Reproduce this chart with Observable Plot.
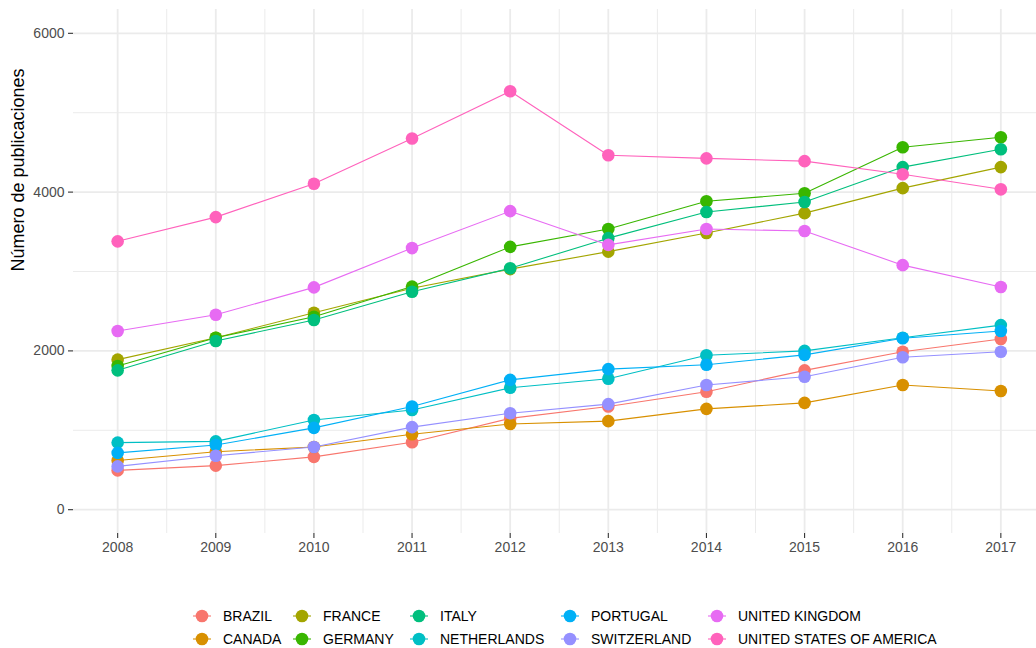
<!DOCTYPE html>
<html><head><meta charset="utf-8">
<script src="https://cdn.jsdelivr.net/npm/d3@7"></script>
<script src="https://cdn.jsdelivr.net/npm/@observablehq/plot@0.6"></script>
<style>
body{margin:0;background:#fff;font-family:"Liberation Sans",Arial,sans-serif;}
#wrap{position:relative;width:1036px;height:648px;overflow:hidden;}
#legend{position:absolute;left:193px;top:604px;display:grid;grid-template-columns:100px 117px 151px 147px auto;grid-template-rows:23px 23px;grid-auto-flow:column;font-size:14px;color:#000;}
.item{display:flex;align-items:center;white-space:nowrap;}
.item svg{margin-right:12px;flex:none;}
</style></head><body><div id="wrap"><div id="chart"></div><div id="legend"></div></div>
<script>
const years = [2008, 2009, 2010, 2011, 2012, 2013, 2014, 2015, 2016, 2017];
const countries = ["BRAZIL", "CANADA", "FRANCE", "GERMANY", "ITALY", "NETHERLANDS", "PORTUGAL", "SWITZERLAND", "UNITED KINGDOM", "UNITED STATES OF AMERICA"];
const colors = ["#F8766D", "#D89000", "#A3A500", "#39B600", "#00BF7D", "#00BFC4", "#00B0F6", "#9590FF", "#E76BF3", "#FF62BC"];

const brazil      = [495, 555, 665, 850, 1150, 1300, 1485, 1755, 1990, 2150];
const canada      = [620, 730, 790, 950, 1080, 1115, 1270, 1345, 1570, 1495];
const france      = [1890, 2165, 2480, 2790, 3030, 3250, 3485, 3735, 4050, 4315];
const germany     = [1810, 2165, 2430, 2810, 3310, 3535, 3885, 3985, 4565, 4690];
const italy       = [1755, 2125, 2390, 2745, 3040, 3420, 3750, 3875, 4315, 4540];
const netherlands = [845, 860, 1130, 1255, 1535, 1650, 1945, 2000, 2165, 2325];
const portugal    = [715, 815, 1030, 1300, 1635, 1770, 1825, 1950, 2160, 2250];
const switzerland = [545, 680, 790, 1040, 1215, 1330, 1570, 1675, 1920, 1990];
const uk          = [2250, 2455, 2800, 3295, 3760, 3335, 3535, 3510, 3080, 2805];
const usa         = [3380, 3685, 4105, 4675, 5270, 4465, 4425, 4390, 4225, 4035];

const yTicks = [0, 2000, 4000, 6000];
const yMinor = [1000, 3000, 5000];
const xMinor = [2008.5, 2009.5, 2010.5, 2011.5, 2012.5, 2013.5, 2014.5, 2015.5, 2016.5];
const yLabel = "Número de publicaciones";

const series = [brazil, canada, france, germany, italy, netherlands, portugal, switzerland, uk, usa];
const rows = [];
countries.forEach((c, i) => series[i].forEach((v, j) => rows.push({country: c, year: years[j], value: v})));

const font = '"Liberation Sans", Arial, sans-serif';
const chart = Plot.plot({
  width: 1036, height: 560,
  marginLeft: 73, marginRight: 0, marginTop: 9, marginBottom: 27,
  style: {fontFamily: font, fontSize: "14px", background: "white", color: "#4d4d4d"},
  x: {domain: [2007.55, 2017.45], range: [73, 1044.5]},
  y: {domain: [-300, 6300], range: [533, 9]},
  color: {domain: countries, range: colors},
  marks: [
    Plot.ruleY(yMinor, {stroke: "#ebebeb", strokeWidth: 1}),
    Plot.ruleX(xMinor, {stroke: "#ebebeb", strokeWidth: 1}),
    Plot.ruleY(yTicks, {stroke: "#ebebeb", strokeWidth: 1.8}),
    Plot.ruleX(years, {stroke: "#ebebeb", strokeWidth: 1.8}),
    Plot.line(rows, {x: "year", y: "value", z: "country", stroke: "country", strokeWidth: 1.1}),
    Plot.dot(rows, {x: "year", y: "value", fill: "country", r: 6.3}),
    Plot.axisY({ticks: yTicks, tickFormat: d => String(d), tickSize: 5, tickPadding: 4, stroke: "#333", strokeWidth: 1.1, fill: "#4d4d4d", label: null, fontSize: 14}),
    Plot.axisX({ticks: years, tickFormat: d => String(d), tickSize: 5, tickPadding: 4, stroke: "#333", strokeWidth: 1.1, fill: "#4d4d4d", label: null, fontSize: 14}),
    Plot.text([yLabel], {frameAnchor: "left", dx: -55, rotate: -90, fontSize: 18, fill: "black", fontFamily: font})
  ]
});
document.getElementById("chart").appendChild(chart);

const legend = document.getElementById("legend");
countries.forEach((c, i) => {
  const item = document.createElement("div");
  item.className = "item";
  item.innerHTML = `<svg width="18" height="18"><line x1="0" x2="18" y1="9" y2="9" stroke="${colors[i]}" stroke-width="1.1"/><circle cx="9" cy="9" r="6.3" fill="${colors[i]}"/></svg><span>${c}</span>`;
  legend.appendChild(item);
});
</script>
</body></html>
